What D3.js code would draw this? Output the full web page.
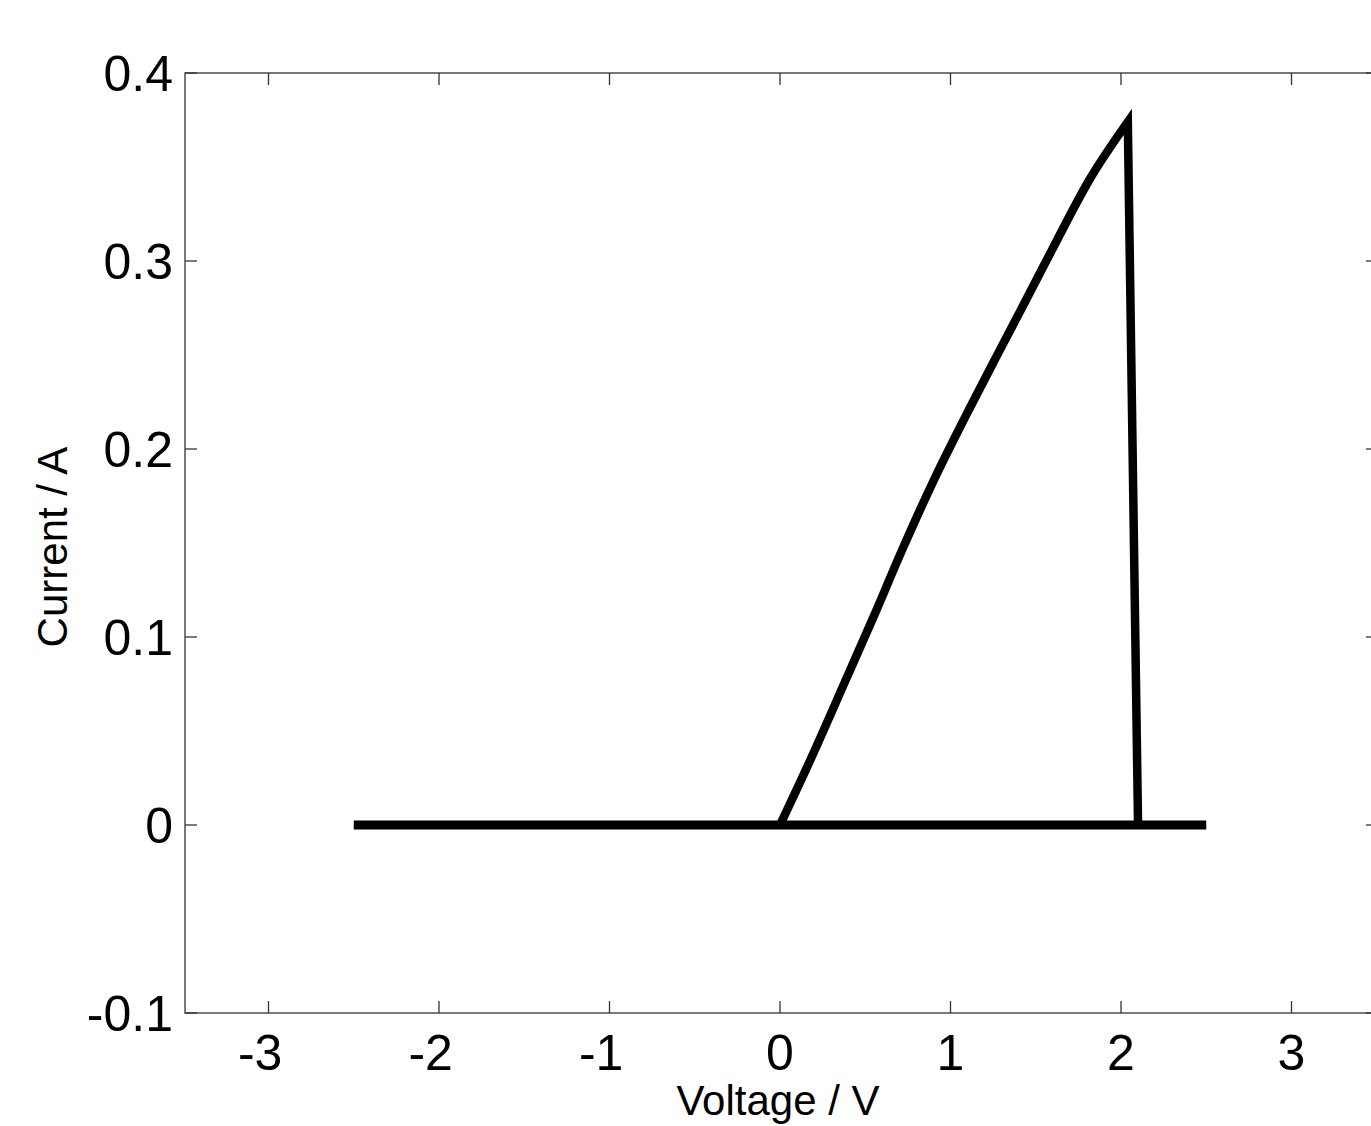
<!DOCTYPE html>
<html>
<head>
<meta charset="utf-8">
<script src="https://cdn.jsdelivr.net/npm/d3@7"></script>
<style>
  body { margin: 0; background: #fff; }
  text { font-family: 'Liberation Sans', Arial, sans-serif; fill: #000; }
</style>
</head>
<body>
<svg width="1371" height="1126"></svg>
<script>
// baseline sweep (current stays at zero)
let baseV = [-2.5, 2.5]
let baseI = [0, 0]
// rising branch up to the peak
let riseV = [0, 0.18, 0.38, 0.55, 0.71, 0.90, 1.12, 1.28, 1.43, 1.59, 1.82, 2.04]
let riseI = [0, 0.035, 0.076, 0.111, 0.145, 0.183, 0.223, 0.251, 0.277, 0.305, 0.344, 0.374]
// sharp drop back to zero
let dropV = [2.04, 2.10]
let dropI = [0.374, 0]
let xTicks = [-3, -2, -1, 0, 1, 2, 3]
let yTicks = [-0.1, 0, 0.1, 0.2, 0.3, 0.4]

window.onload = function () {
  let svg = d3.select('svg')
  let left = 185, top = 73
  let right = 1378, bottom = 1013

  let x = d3.scaleLinear().domain([-3, 3]).range([268.5, 1291.5])
  let y = d3.scaleLinear().domain([-0.1, 0.4]).range([bottom, top])

  let g = svg.append('g')
  let axisColor = '#333'
  let tickLen = 12

  // frame
  g.append('rect')
    .attr('x', left)
    .attr('y', top)
    .attr('width', right - left)
    .attr('height', bottom - top)
    .attr('fill', 'none')
    .attr('stroke', axisColor)
    .attr('stroke-width', 1.3)

  // inward ticks on all four sides
  for (let t of xTicks) {
    g.append('line').attr('x1', x(t)).attr('x2', x(t))
      .attr('y1', bottom).attr('y2', bottom - tickLen)
      .attr('stroke', axisColor).attr('stroke-width', 1.3)
    g.append('line').attr('x1', x(t)).attr('x2', x(t))
      .attr('y1', top).attr('y2', top + tickLen)
      .attr('stroke', axisColor).attr('stroke-width', 1.3)
    // digit centred on the tick, minus sign hangs to the left
    g.append('text')
      .attr('x', x(t) + 0.278 * 50)
      .attr('y', bottom + 57)
      .attr('text-anchor', 'end')
      .style('font-size', '50px')
      .text(t < 0 ? '-' + Math.abs(t) : t)
  }
  for (let t of yTicks) {
    g.append('line').attr('x1', left).attr('x2', left + tickLen)
      .attr('y1', y(t)).attr('y2', y(t))
      .attr('stroke', axisColor).attr('stroke-width', 1.3)
    g.append('line').attr('x1', right).attr('x2', right - tickLen)
      .attr('y1', y(t)).attr('y2', y(t))
      .attr('stroke', axisColor).attr('stroke-width', 1.3)
    g.append('text')
      .attr('x', left - 12)
      .attr('y', y(t))
      .attr('dy', '0.36em')
      .attr('text-anchor', 'end')
      .style('font-size', '50px')
      .text(t === 0 ? '0' : (t < 0 ? '-' : '') + Math.abs(t).toFixed(1))
  }

  // axis titles
  svg.append('text')
    .attr('x', 778)
    .attr('y', 1115)
    .attr('text-anchor', 'middle')
    .style('font-size', '42px')
    .text('Voltage / V')
  svg.append('text')
    .attr('transform', 'translate(67,547) rotate(-90)')
    .attr('text-anchor', 'middle')
    .style('font-size', '42px')
    .text('Current / A')

  // data lines
  let line = d3.line()
    .x(function (d) { return x(d[0]) })
    .y(function (d) { return y(d[1]) })
  let smooth = d3.line()
    .x(function (d) { return x(d[0]) })
    .y(function (d) { return y(d[1]) })
    .curve(d3.curveMonotoneX)

  let basePts = d3.zip(baseV, baseI)
  let risePts = d3.zip(riseV, riseI)
  let dropPts = d3.zip(dropV, dropI)

  g.append('path')
    .attr('d', line(basePts))
    .attr('fill', 'none')
    .attr('stroke', '#000')
    .attr('stroke-width', 9)
    .attr('stroke-linecap', 'butt')

  // rising branch + drop as one path so the peak stays pointed
  let d = smooth(risePts) + line(dropPts).replace('M', 'L')
  g.append('path')
    .attr('d', d)
    .attr('fill', 'none')
    .attr('stroke', '#000')
    .attr('stroke-width', 8.5)
    .attr('stroke-linejoin', 'miter')
    .attr('stroke-miterlimit', 4)
}
</script>
</body>
</html>
